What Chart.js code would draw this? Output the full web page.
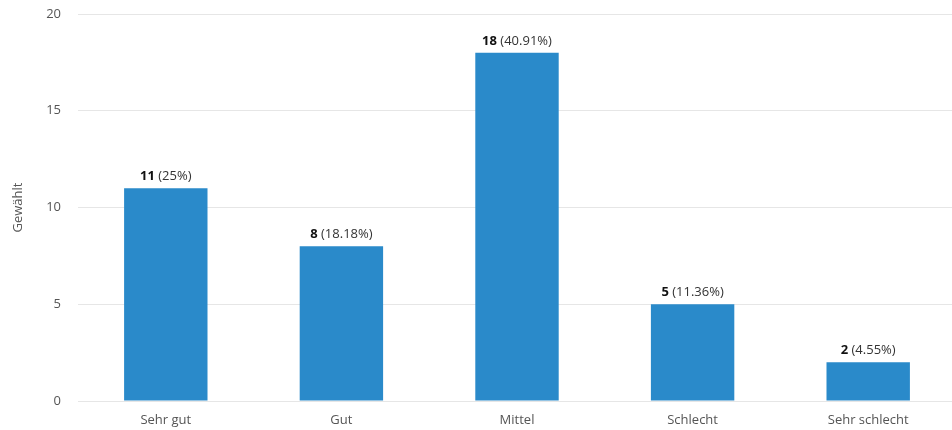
<!DOCTYPE html>
<html>
<head>
<meta charset="utf-8">
<script src="https://cdn.jsdelivr.net/npm/chart.js@4/dist/chart.umd.min.js"></script>
<style>
  html, body { margin: 0; padding: 0; background: #fff; overflow: hidden; }
  #wrap { width: 956px; height: 430px; }
</style>
</head>
<body>
<div id="wrap"><canvas id="myChart"></canvas></div>
<script>
// chart data
const categories = ["Sehr gut", "Gut", "Mittel", "Schlecht", "Sehr schlecht"];
const votes = [11, 8, 18, 5, 2];
const percentLabels = ["25%", "18.18%", "40.91%", "11.36%", "4.55%"];
const yTicks = [0, 5, 10, 15, 20];

const fontFamily = "'Open Sans', sans-serif";

// draws "11 (25%)" above each bar
const barLabels = {
  id: "barLabels",
  afterDatasetsDraw(chart) {
    const ctx = chart.ctx;
    const meta = chart.getDatasetMeta(0);
    ctx.save();
    ctx.textBaseline = "alphabetic";
    meta.data.forEach(function (bar, i) {
      const bold = String(votes[i]);
      const rest = " (" + percentLabels[i] + ")";
      ctx.font = "bold 13px " + fontFamily;
      const w1 = ctx.measureText(bold).width;
      ctx.font = "13px " + fontFamily;
      const w2 = ctx.measureText(rest).width;
      let x = bar.x - (w1 + w2) / 2;
      const y = bar.y - 8;
      ctx.fillStyle = "#111";
      ctx.textAlign = "left";
      ctx.font = "bold 13px " + fontFamily;
      ctx.fillText(bold, x, y);
      ctx.fillStyle = "#333";
      ctx.font = "13px " + fontFamily;
      ctx.fillText(rest, x + w1, y);
    });
    ctx.restore();
  }
};

const ctx = document.getElementById("myChart");
var myBarChart = new Chart(ctx, {
  type: "bar",
  data: {
    labels: categories,
    datasets: [
      {
        data: votes,
        backgroundColor: "#2a8aca",
        borderWidth: 0,
        barPercentage: 0.475,
        categoryPercentage: 1,
      },
    ],
  },
  options: {
    responsive: true,
    maintainAspectRatio: false,
    animation: false,
    layout: { padding: { top: 14, right: 0, left: 10, bottom: 0 } },
    plugins: {
      legend: { display: false },
      tooltip: { enabled: false },
    },
    scales: {
      x: {
        afterFit(scale) {
          scale.height = 29;
        },
        grid: { display: false },
        border: { display: false },
        ticks: {
          color: "#555",
          font: { family: fontFamily, size: 13 },
          padding: 3,
        },
      },
      y: {
        min: 0,
        max: 20,
        afterBuildTicks(scale) {
          scale.ticks = yTicks.map(function (v) { return { value: v }; });
        },
        afterFit(scale) {
          scale.width = 68;
          scale.paddingTop = 0;
          scale.paddingBottom = 0;
        },
        grid: { color: "#e6e6e6", drawTicks: false },
        border: { display: false },
        ticks: {
          color: "#555",
          font: { family: fontFamily, size: 13 },
          padding: 17,
        },
        title: {
          display: true,
          text: "Gewählt",
          color: "#555",
          font: { family: fontFamily, size: 13 },
          padding: { top: 0, bottom: 4 },
        },
      },
    },
  },
  plugins: [barLabels],
});
</script>
</body>
</html>
